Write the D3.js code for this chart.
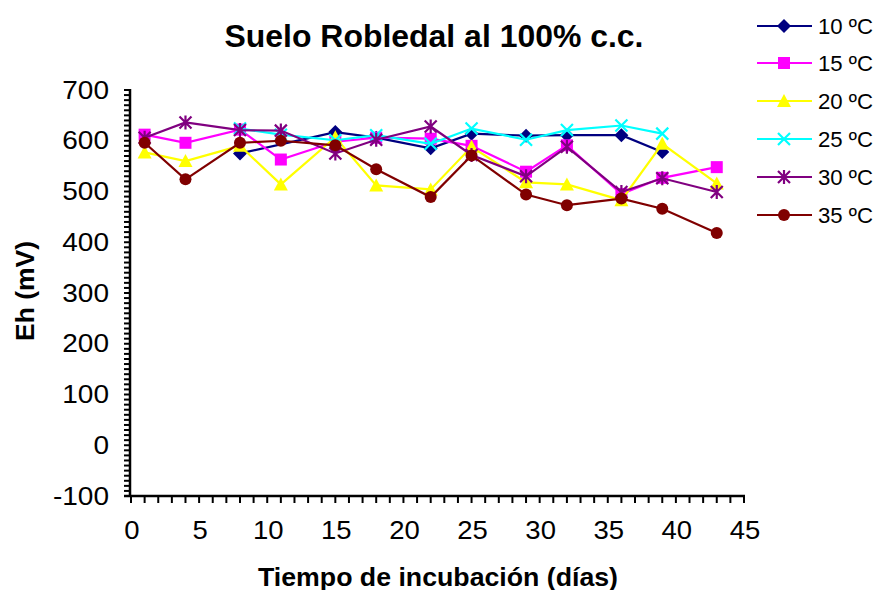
<!DOCTYPE html>
<html><head><meta charset="utf-8">
<script src="https://cdn.jsdelivr.net/npm/d3@7"></script>
<style>body{margin:0;background:#fff}svg{display:block;font-family:"Liberation Sans",Arial,sans-serif}</style>
</head><body><svg id="c" width="874" height="590"></svg>
<script>
const days = [1,4,8,11,15,18,22,25,29,32,36,39,43];
const seriesNames = ["10 ºC","15 ºC","20 ºC","25 ºC","30 ºC","35 ºC"];
const s10 = [null,null,575,null,617,606,585,614,610,611,611,578,null];
const s15 = [612,596,622,563,598,606,604,590,539,591,495,527,548];
const s20 = [577,560,590,514,607,512,504,588,518,514,483,594,516];
const s25 = [null,null,624,612,601,611,594,624,602,621,630,614,null];
const s30 = [606,636,621,620,575,602,628,572,530,588,499,526,499];
const s35 = [596,524,596,600,591,544,489,571,494,473,486,466,418];
const seriesValues = [s10,s15,s20,s25,s30,s35];
const colors = ["#000080","#FF00FF","#FFFF00","#00FFFF","#800080","#800000"];
const markers = ["diamond","square","triangle","x","asterisk","circle"];
const xTicks = [0,5,10,15,20,25,30,35,40,45];
const yTicks = [-100,0,100,200,300,400,500,600,700];

const svg = d3.select("#c");
const x = d3.scaleLinear().domain([0,45]).range([131,744]);
const y = d3.scaleLinear().domain([-100,700]).range([496,90]);

function stretch(sel, k){
  sel.each(function(){
    const w = this.getComputedTextLength();
    this.setAttribute("textLength", w*k);
    this.setAttribute("lengthAdjust","spacingAndGlyphs");
  });
}

// title
svg.append("text").attr("x",434).attr("y",47).attr("text-anchor","middle")
  .attr("font-size",32).attr("font-weight","bold").text("Suelo Robledal al 100% c.c.")
  .attr("textLength",419).attr("lengthAdjust","spacingAndGlyphs");

// axes
const ax = svg.append("g").attr("stroke","#000");
ax.selectAll(".ym").data(d3.range(-100,701,10)).join("line")
  .attr("x1",124).attr("x2",131).attr("y1",d=>y(d)).attr("y2",d=>y(d)).attr("stroke-width",2);
ax.selectAll(".xm").data(d3.range(0,46,1)).join("line")
  .attr("x1",d=>x(d)).attr("x2",d=>x(d)).attr("y1",496).attr("y2",503).attr("stroke-width",2);
ax.append("line").attr("x1",130).attr("x2",130).attr("y1",89).attr("y2",497).attr("stroke-width",2.5);
ax.append("line").attr("x1",124).attr("x2",745).attr("y1",496).attr("y2",496).attr("stroke-width",2.5);

stretch(svg.selectAll(".yl").data(yTicks).join("text")
  .attr("x",109).attr("y",d=>y(d)+8.5).attr("text-anchor","end").attr("font-size",25).text(d=>d), 1.12);
stretch(svg.selectAll(".xl").data(xTicks).join("text")
  .attr("x",d=>x(d)+1).attr("y",539).attr("text-anchor","middle").attr("font-size",25).text(d=>d), 1.1);

svg.append("text").attr("transform","translate(34,291) rotate(-90)").attr("text-anchor","middle")
  .attr("font-size",25).attr("font-weight","bold").text("Eh (mV)")
  .attr("textLength",100).attr("lengthAdjust","spacingAndGlyphs");
svg.append("text").attr("x",438).attr("y",586).attr("text-anchor","middle")
  .attr("font-size",25).attr("font-weight","bold").text("Tiempo de incubación (días)")
  .attr("textLength",360).attr("lengthAdjust","spacingAndGlyphs");

function drawMarker(g, type, cx, cy, color){
  const s = 6;
  if(type==="diamond"){
    g.append("path").attr("d",`M${cx},${cy-s-1}L${cx+s+1},${cy}L${cx},${cy+s+1}L${cx-s-1},${cy}Z`).attr("fill",color);
  } else if(type==="square"){
    g.append("rect").attr("x",cx-s).attr("y",cy-s).attr("width",2*s).attr("height",2*s).attr("fill",color);
  } else if(type==="triangle"){
    g.append("path").attr("d",`M${cx},${cy-s-1}L${cx+s+1},${cy+s}L${cx-s-1},${cy+s}Z`).attr("fill",color);
  } else if(type==="circle"){
    g.append("circle").attr("cx",cx).attr("cy",cy).attr("r",s).attr("fill",color);
  } else if(type==="x"){
    g.append("path").attr("d",`M${cx-s},${cy-s}L${cx+s},${cy+s}M${cx-s},${cy+s}L${cx+s},${cy-s}`)
      .attr("stroke",color).attr("stroke-width",2.2).attr("fill","none");
  } else if(type==="asterisk"){
    g.append("path").attr("d",`M${cx-s},${cy-s}L${cx+s},${cy+s}M${cx-s},${cy+s}L${cx+s},${cy-s}M${cx},${cy-s-1}L${cx},${cy+s+1}`)
      .attr("stroke",color).attr("stroke-width",2.2).attr("fill","none");
  }
}

const line = d3.line().x(d=>x(d[0])).y(d=>y(d[1]));
seriesValues.forEach((vals,i)=>{
  const pts = days.map((d,j)=>[d,vals[j]]).filter(p=>p[1]!==null);
  const g = svg.append("g");
  g.append("path").attr("d",line(pts)).attr("fill","none").attr("stroke",colors[i]).attr("stroke-width",2.2);
  pts.forEach(p=>drawMarker(g,markers[i],x(p[0]),y(p[1]),colors[i]));
});

// legend
const legY = [26,63,101,139,177,215];
seriesNames.forEach((n,i)=>{
  const g = svg.append("g");
  g.append("line").attr("x1",757).attr("x2",812).attr("y1",legY[i]).attr("y2",legY[i]).attr("stroke",colors[i]).attr("stroke-width",2.2);
  drawMarker(g,markers[i],784,legY[i],colors[i]);
  g.append("text").attr("x",818).attr("y",legY[i]+8).attr("font-size",22).text(n)
    .attr("textLength",55).attr("lengthAdjust","spacingAndGlyphs");
});
</script></body></html>
